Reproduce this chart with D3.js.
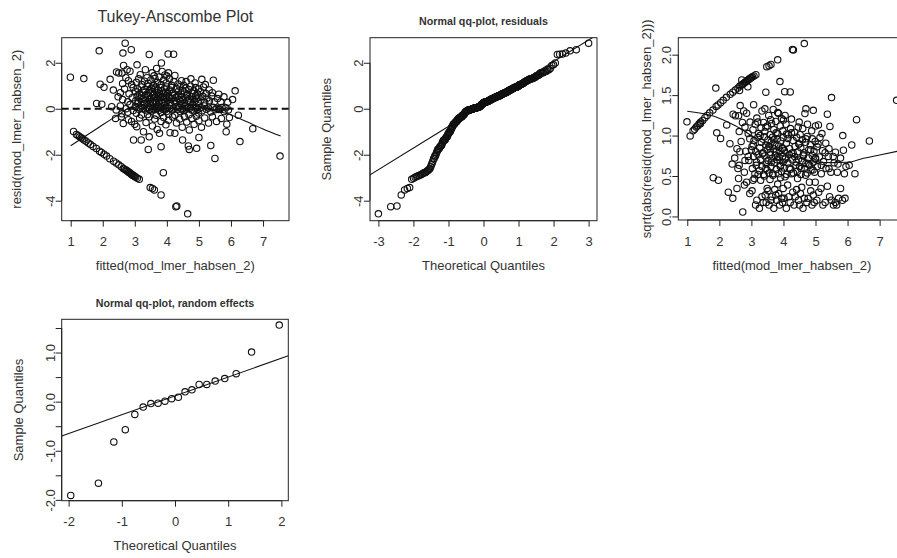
<!DOCTYPE html>
<html>
<head>
<meta charset="utf-8">
<script src="https://cdn.jsdelivr.net/npm/d3@7"></script>
<style>
  body { margin: 0; background: #fff; }
  svg { display: block; }
  text { font-family: "Liberation Sans", Arial, sans-serif; fill: #333; }
</style>
</head>
<body>
<svg id="chart"></svg>
<script>
const width = 897;
const height = 558;

// Residuals vs fitted values: [fitted, resid]
const residPoints = [
  // resid above 2
  [1.89,2.52],[2.70,2.85],[2.63,2.42],[2.89,2.57],[3.45,2.36],[4.04,2.38],[4.21,2.37],[3.83,1.99],
  // 1.4 .. 2
  [2.65,1.88],[2.76,1.70],[2.50,1.55],[2.43,1.60],[3.07,1.91],[3.33,1.70],[3.54,1.56],[3.85,1.62],[4.05,1.56],
  [3.60,1.43],[3.17,1.48],[2.60,1.55],[2.85,1.63],[4.25,1.45],[4.00,1.42],[3.68,1.75],[3.94,1.47],
  // 1 .. 1.4
  [0.99,1.37],[1.41,1.31],[1.92,1.07],[2.23,1.28],[2.72,1.35],[2.80,1.22],[2.62,1.10],[2.90,1.05],[3.05,1.15],
  [3.12,1.30],[3.22,1.05],[3.30,1.20],[3.38,1.35],[3.42,1.10],[3.50,1.25],[3.58,1.02],[3.63,1.32],[3.70,1.15],
  [3.76,1.38],[3.82,1.05],[3.90,1.25],[3.98,1.12],[4.08,1.30],[4.15,1.02],[4.22,1.18],[4.35,1.08],[4.46,1.22],
  [4.60,1.18],[4.75,1.30],[4.88,1.12],[5.09,1.28],[5.45,1.24],[5.20,1.05],[4.52,1.02],
  // 0.6 .. 1
  [2.04,0.93],[2.33,0.81],[2.68,0.86],[2.55,0.70],[2.82,0.65],[2.95,0.92],
  [3.02,0.75],[3.08,0.88],[3.14,0.64],[3.20,0.95],[3.26,0.72],[3.31,0.84],[3.36,0.62],[3.41,0.97],[3.45,0.78],[3.49,0.68],
  [3.52,0.90],[3.55,0.74],[3.59,0.63],[3.62,0.85],[3.66,0.96],[3.70,0.70],[3.73,0.80],[3.77,0.64],[3.81,0.92],
  [3.85,0.76],[3.89,0.67],[3.92,0.87],[3.96,0.72],[3.99,0.95],
  [4.03,0.66],[4.09,0.82],[4.14,0.93],[4.19,0.70],[4.25,0.61],[4.30,0.88],[4.36,0.75],[4.41,0.96],[4.45,0.64],[4.49,0.80],
  [4.54,0.72],[4.59,0.90],[4.64,0.62],[4.69,0.84],[4.74,0.98],[4.79,0.68],[4.84,0.78],[4.90,0.92],[4.95,0.65],[4.99,0.86],
  [5.05,0.74],[5.14,0.95],[5.22,0.66],[5.32,0.82],[5.42,0.70],[5.62,0.63],[6.13,0.78],
  // 0.25 .. 0.6
  [2.48,0.52],[2.62,0.40],[2.78,0.30],[2.92,0.48],
  [3.03,0.35],[3.07,0.55],[3.11,0.28],[3.16,0.45],[3.21,0.58],[3.25,0.32],[3.29,0.50],[3.33,0.38],[3.38,0.27],
  [3.42,0.56],[3.46,0.42],[3.49,0.33],
  [3.52,0.48],[3.55,0.29],[3.58,0.58],[3.61,0.38],[3.64,0.51],[3.67,0.26],[3.71,0.44],[3.74,0.57],[3.78,0.34],
  [3.81,0.49],[3.84,0.28],[3.87,0.53],[3.91,0.40],[3.94,0.31],[3.97,0.55],[3.99,0.45],
  [4.02,0.36],[4.06,0.52],[4.10,0.27],[4.14,0.44],[4.18,0.58],[4.22,0.34],[4.27,0.49],[4.31,0.29],[4.35,0.55],
  [4.39,0.40],[4.43,0.31],[4.47,0.50],[4.50,0.38],
  [4.54,0.27],[4.58,0.47],[4.62,0.56],[4.66,0.35],[4.70,0.43],[4.74,0.29],[4.78,0.52],[4.82,0.40],[4.86,0.33],
  [4.90,0.57],[4.93,0.45],[4.97,0.30],[5.00,0.50],
  [5.06,0.38],[5.12,0.54],[5.18,0.28],[5.25,0.46],[5.33,0.35],[5.40,0.55],[5.48,0.30],
  [5.58,0.44],[5.68,0.30],[5.78,0.52],[5.90,0.28],[6.05,0.40],
  // -0.3 .. 0.25
  [1.81,0.23],[1.97,0.20],[2.28,0.09],[2.42,-0.05],[2.55,0.12],[2.60,-0.22],[2.73,0.003],[2.78,-0.15],[2.85,0.18],[2.95,-0.08],
  [3.02,0.10],[3.05,-0.20],[3.09,0.22],[3.13,-0.02],[3.17,0.04],[3.21,-0.27],[3.25,0.01],[3.29,0.20],[3.33,-0.06],
  [3.37,0.03],[3.40,-0.25],[3.43,0.07],[3.46,-0.03],[3.49,0.12],
  [3.52,-0.10],[3.55,0.02],[3.58,0.21],[3.61,-0.04],[3.64,0.06],[3.67,-0.28],[3.70,0.01],[3.73,0.11],[3.76,-0.07],
  [3.79,0.04],[3.82,-0.16],[3.85,0.08],[3.88,-0.02],[3.91,0.23],[3.94,-0.05],[3.97,0.03],[3.99,-0.12],
  [4.02,0.05],[4.05,-0.24],[4.09,0.01],[4.13,0.15],[4.17,-0.06],[4.21,0.03],[4.25,-0.28],[4.29,0.09],[4.33,-0.02],
  [4.37,0.06],[4.41,-0.11],[4.44,0.22],[4.47,-0.04],[4.50,0.02],
  [4.53,-0.08],[4.57,0.13],[4.61,-0.01],[4.65,0.05],[4.69,-0.26],[4.73,0.03],[4.77,-0.05],[4.81,0.18],[4.85,-0.10],
  [4.89,0.02],[4.93,0.07],[4.96,-0.03],[4.99,-0.18],
  [5.04,0.04],[5.10,-0.09],[5.17,0.12],[5.23,-0.02],[5.30,0.03],[5.37,-0.14],[5.44,0.06],[5.50,-0.04],
  [5.56,0.02],[5.62,-0.03],[5.66,-0.02],[5.72,0.05],[5.78,-0.12],[5.84,0.04],[5.92,-0.05],[6.23,-0.28],
  // -1.1 .. -0.3
  [2.40,-0.42],[2.58,-0.35],[2.64,-0.64],[2.80,-0.48],[2.90,-0.55],[3.00,-0.68],[3.06,-0.78],[3.27,-1.00],[3.15,-0.40],
  [3.35,-0.60],[3.45,-0.35],[3.55,-0.75],[3.62,-0.45],[3.70,-0.90],[3.77,-1.07],[3.82,-0.55],[3.90,-0.38],[3.97,-0.70],
  [4.05,-0.50],[4.10,-1.04],[4.18,-0.36],[4.25,-1.07],[4.30,-0.62],[4.40,-0.45],[4.48,-0.80],[4.55,-0.35],[4.62,-0.58],
  [4.70,-0.92],[4.78,-0.42],[4.85,-0.68],[4.92,-0.33],[5.00,-0.52],[5.08,-0.80],[5.18,-0.40],[5.30,-0.62],[5.42,-0.35],
  [5.55,-0.55],[5.70,-0.42],[5.85,-1.00],[5.87,-0.67],[5.95,-0.38],[6.68,-0.87],
  // -2.6 .. -1.1, scattered
  [2.96,-1.36],[3.20,-1.36],[3.42,-1.77],[3.45,-1.22],[3.82,-1.65],[4.49,-1.36],[4.67,-1.62],[4.70,-1.77],[4.93,-1.72],
  [5.00,-1.25],[5.37,-1.60],[5.50,-2.16],[6.28,-1.43],[7.53,-2.06],
  // diagonal streak (response 0)
  [1.09,-0.99],[1.18,-1.12],[1.23,-1.16],[1.28,-1.22],[1.33,-1.26],[1.37,-1.31],[1.42,-1.36],[1.48,-1.41],[1.55,-1.49],
  [1.62,-1.56],[1.70,-1.64],[1.80,-1.73],[1.90,-1.85],[1.96,-1.90],[2.04,-1.98],[2.12,-2.06],[2.22,-2.17],[2.34,-2.28],
  [2.42,-2.36],[2.50,-2.44],[2.58,-2.52],
  [2.64,-2.60],[2.68,-2.63],[2.72,-2.66],[2.75,-2.70],[2.78,-2.72],[2.81,-2.76],[2.84,-2.78],[2.87,-2.82],[2.89,-2.85],
  [2.92,-2.87],[2.94,-2.90],[2.97,-2.92],[3.00,-2.95],[3.03,-2.98],[3.08,-3.02],[3.14,-3.07],
  // low outliers
  [3.89,-2.78],[3.48,-3.43],[3.61,-3.53],[3.55,-3.47],[3.82,-3.75],[4.31,-4.23],[4.28,-4.26],[4.65,-4.57]
];

// smooth curves
const taSmooth = [[1.0,-1.61],[1.5,-1.15],[2.0,-0.70],[2.5,-0.25],[2.8,0.02],[3.2,0.25],[3.7,0.38],[4.2,0.35],
  [4.7,0.20],[5.2,0.05],[5.6,-0.10],[6.0,-0.27],[6.5,-0.57],[7.0,-0.88],[7.55,-1.19]];
const slSmooth = [[1.0,1.30],[1.9,1.23],[2.5,1.12],[3.0,1.00],[3.5,0.88],[4.0,0.79],[4.5,0.72],[5.0,0.68],
  [5.5,0.665],[6.0,0.67],[6.5,0.72],[7.0,0.76],[7.6,0.81]];

// qq reference lines: intercept, slope
const qqResidLine = [0.17, 0.94];
const qqRanefLine = [0.118, 0.383];

// random effects (sorted)
const ranefValues = [-1.91,-1.66,-0.82,-0.57,-0.26,-0.11,-0.04,-0.03,0.01,0.06,0.09,0.20,0.24,0.35,0.35,0.42,0.47,0.57,1.01,1.56];

// tick values
const fittedTicks = [1, 2, 3, 4, 5, 6, 7];
const residTicks = [-4, -2, 0, 2];
const qqResidXTicks = [-3, -2, -1, 0, 1, 2, 3];
const sqrtTicks = [0, 0.5, 1, 1.5, 2];
const qqRanefXTicks = [-2, -1, 0, 1, 2];
const qqRanefYTicks = [-2, -1.5, -1, -0.5, 0, 0.5, 1, 1.5];

// inverse normal cdf (Acklam) for theoretical quantiles
function qnorm(p) {
  const a = [-3.969683028665376e+01, 2.209460984245205e+02, -2.759285104469687e+02, 1.383577518672690e+02, -3.066479806614716e+01, 2.506628277459239e+00];
  const b = [-5.447609879822406e+01, 1.615858368580409e+02, -1.556989798598866e+02, 6.680131188771972e+01, -1.328068155288572e+01];
  const c = [-7.784894002430293e-03, -3.223964580411365e-01, -2.400758277161838e+00, -2.549732539343734e+00, 4.374664141464968e+00, 2.938163982698783e+00];
  const d = [7.784695709041462e-03, 3.224671290700398e-01, 2.445134137142996e+00, 3.754408661907416e+00];
  const pl = 0.02425;
  if (p < pl) {
    const q = Math.sqrt(-2 * Math.log(p));
    return (((((c[0]*q+c[1])*q+c[2])*q+c[3])*q+c[4])*q+c[5]) / ((((d[0]*q+d[1])*q+d[2])*q+d[3])*q+1);
  }
  if (p > 1 - pl) {
    const q = Math.sqrt(-2 * Math.log(1 - p));
    return -(((((c[0]*q+c[1])*q+c[2])*q+c[3])*q+c[4])*q+c[5]) / ((((d[0]*q+d[1])*q+d[2])*q+d[3])*q+1);
  }
  const q = p - 0.5, r = q * q;
  return (((((a[0]*r+a[1])*r+a[2])*r+a[3])*r+a[4])*r+a[5])*q / (((((b[0]*r+b[1])*r+b[2])*r+b[3])*r+b[4])*r+1);
}

// R's ppoints + qnorm
function qqPairs(values) {
  const sorted = values.slice().sort((a, b) => a - b);
  const n = sorted.length;
  const a = n <= 10 ? 3 / 8 : 0.5;
  return sorted.map((v, i) => [qnorm((i + 1 - a) / (n + 1 - 2 * a)), v]);
}

const svg = d3.select("#chart")
  .attr("width", width)
  .attr("height", height);

const fmtInt = d => String(d);
const fmt1 = d => d.toFixed(1);

function drawPanel(p) {
  const [x0, x1, y0, y1] = p.box;
  const x = d3.scaleLinear().domain(p.xDomain).range([x0, x1]);
  const y = d3.scaleLinear().domain(p.yDomain).range([y1, y0]);
  const g = svg.append("g");

  const clipId = "clip-" + p.id;
  svg.append("clipPath").attr("id", clipId)
    .append("rect").attr("x", x0).attr("y", y0).attr("width", x1 - x0).attr("height", y1 - y0);

  // x axis
  const xAxis = g.append("g")
    .attr("transform", `translate(0,${y1})`)
    .call(d3.axisBottom(x).tickValues(p.xTicks).tickSize(6).tickSizeOuter(0).tickFormat(p.xFmt || fmtInt));
  xAxis.select(".domain")
    .attr("d", `M${x(p.xTicks[0])},0H${x(p.xTicks[p.xTicks.length - 1])}`);
  xAxis.selectAll("text")
    .attr("y", 25.5).attr("dy", 0)
    .style("font-size", "13px");

  // y axis, labels parallel to the axis
  const yAxis = g.append("g")
    .attr("transform", `translate(${x0},0)`)
    .call(d3.axisLeft(y).tickValues(p.yTicks).tickSize(6).tickSizeOuter(0).tickFormat(p.yFmt || fmtInt));
  yAxis.select(".domain")
    .attr("d", `M0,${y(p.yTicks[0])}V${y(p.yTicks[p.yTicks.length - 1])}`);
  yAxis.selectAll("text")
    .attr("transform", "rotate(-90)")
    .attr("x", 0).attr("y", -7).attr("dy", 0)
    .attr("text-anchor", "middle")
    .style("font-size", "13px");
  g.selectAll(".domain, .tick line").attr("stroke", "#222");

  // box
  g.append("rect")
    .attr("x", x0).attr("y", y0)
    .attr("width", x1 - x0).attr("height", y1 - y0)
    .attr("fill", "none").attr("stroke", "#222").attr("stroke-width", 1);

  // points
  g.append("g")
    .selectAll("circle")
    .data(p.points)
    .join("circle")
    .attr("cx", d => x(d[0]))
    .attr("cy", d => y(d[1]))
    .attr("r", 3.2)
    .attr("fill", "none")
    .attr("stroke", "#111")
    .attr("stroke-width", 1.1);

  const lines = g.append("g").attr("clip-path", `url(#${clipId})`);
  if (p.hline !== undefined) {
    lines.append("line")
      .attr("x1", x0).attr("x2", x1)
      .attr("y1", y(p.hline)).attr("y2", y(p.hline))
      .attr("stroke", "#111").attr("stroke-width", 2)
      .attr("stroke-dasharray", "7,4");
  }
  if (p.smooth) {
    lines.append("path")
      .datum(p.smooth)
      .attr("d", d3.line().x(d => x(d[0])).y(d => y(d[1])).curve(d3.curveMonotoneX))
      .attr("fill", "none").attr("stroke", "#111").attr("stroke-width", 1.1);
  }
  if (p.abline) {
    const [a, b] = p.abline;
    const xs = x.domain();
    lines.append("line")
      .attr("x1", x(xs[0])).attr("y1", y(a + b * xs[0]))
      .attr("x2", x(xs[1])).attr("y2", y(a + b * xs[1]))
      .attr("stroke", "#111").attr("stroke-width", 1.1);
  }

  // titles and axis labels
  if (p.title) {
    g.append("text")
      .attr("x", (x0 + x1) / 2).attr("y", p.titleY)
      .attr("text-anchor", "middle")
      .style("font-size", p.titleSize + "px")
      .style("font-weight", p.titleBold ? "bold" : "normal")
      .text(p.title);
  }
  g.append("text")
    .attr("x", (x0 + x1) / 2).attr("y", y1 + 49.5)
    .attr("text-anchor", "middle")
    .style("font-size", "13px")
    .text(p.xlab);
  g.append("text")
    .attr("transform", `translate(${x0 - p.ylabOffset + 4.5},${(y0 + y1) / 2}) rotate(-90)`)
    .attr("text-anchor", "middle")
    .style("font-size", "13px")
    .text(p.ylab);
}

const sqrtPoints = residPoints.map(d => [d[0], Math.sqrt(Math.abs(d[1]))]);

drawPanel({
  id: "ta", box: [61.7, 289, 37.7, 220.7],
  xDomain: [0.72, 7.81], yDomain: [-4.87, 3.09],
  xTicks: fittedTicks, yTicks: residTicks,
  points: residPoints, hline: 0, smooth: taSmooth,
  title: "Tukey-Anscombe Plot", titleSize: 16, titleBold: false, titleY: 21.5,
  xlab: "fitted(mod_lmer_habsen_2)", ylab: "resid(mod_lmer_habsen_2)", ylabOffset: 45.5
});

drawPanel({
  id: "qqr", box: [370, 597, 37.7, 220.7],
  xDomain: [-3.24, 3.24], yDomain: [-4.87, 3.09],
  xTicks: qqResidXTicks, yTicks: residTicks,
  points: qqPairs(residPoints.map(d => d[1])), abline: qqResidLine,
  title: "Normal qq-plot, residuals", titleSize: 10.7, titleBold: true, titleY: 24.5,
  xlab: "Theoretical Quantiles", ylab: "Sample Quantiles", ylabOffset: 43.3
});

drawPanel({
  id: "sl", box: [678.3, 905.6, 37.7, 220],
  xDomain: [0.72, 7.81], yDomain: [-0.044, 2.21],
  xTicks: fittedTicks, yTicks: sqrtTicks, yFmt: fmt1,
  points: sqrtPoints, smooth: slSmooth,
  xlab: "fitted(mod_lmer_habsen_2)", ylab: "sqrt(abs(resid(mod_lmer_habsen_2)))", ylabOffset: 31.6
});

drawPanel({
  id: "qqre", box: [61.7, 288.3, 319.3, 500.7],
  xDomain: [-2.13, 2.13], yDomain: [-2.017, 1.677],
  xTicks: qqRanefXTicks, yTicks: qqRanefYTicks,
  yFmt: d => Number.isInteger(d) ? d.toFixed(1) : "",
  points: qqPairs(ranefValues), abline: qqRanefLine,
  title: "Normal qq-plot, random effects", titleSize: 10.7, titleBold: true, titleY: 307,
  xlab: "Theoretical Quantiles", ylab: "Sample Quantiles", ylabOffset: 43.4
});
</script>
</body>
</html>
